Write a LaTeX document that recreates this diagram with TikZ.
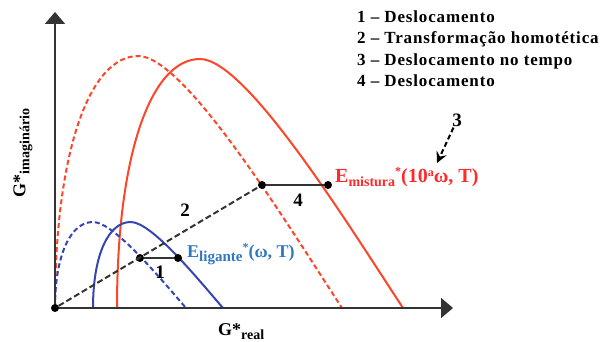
\documentclass[tikz,border=0pt]{standalone}
\usepackage{fontspec}
\setmainfont{Liberation Serif}
\usetikzlibrary{arrows.meta}
\definecolor{redc}{HTML}{FF4528}
\definecolor{bluec}{HTML}{3645B0}
\definecolor{ligc}{HTML}{2F78C0}
\definecolor{mixc}{HTML}{FF2A2A}
\definecolor{axc}{HTML}{333333}
\newcommand\archcurve[4]{%
  \draw[#1] (#2,308) .. controls ({#2+0.0*#3},{308-0.62*#4}) and ({#2+0.12*#3},{308-#4}) .. ({#2+0.29*#3},{308-#4})
    .. controls ({#2+0.45*#3},{308-#4}) and ({#2+0.8*#3},{308-0.35*#4}) .. ({#2+#3},308);}
\tikzset{
  redsolid/.style={draw=redc, line width=2pt},
  reddash/.style={draw=redc, line width=2pt, dash pattern=on 5pt off 3pt},
  bluesolid/.style={draw=bluec, line width=2pt},
  bluedash/.style={draw=bluec, line width=2pt, dash pattern=on 5pt off 3pt},
  axis/.style={draw=axc, line width=2pt, -{Triangle[length=12pt,width=20pt]}},
  dot/.style={circle, fill=black, inner sep=0pt, minimum size=8pt},
  blackdash/.style={draw=axc, line width=2pt, dash pattern=on 6pt off 3pt},
  seg/.style={draw=axc, line width=2pt},
  num/.style={font=\bfseries\fontsize{19}{22}\selectfont, inner sep=1pt},
  legend/.style={font=\bfseries\fontsize{17}{20}\selectfont\addfontfeature{LetterSpace=5}, anchor=base west, inner sep=0pt},
}
\begin{document}
\begin{tikzpicture}[x=1pt,y=-1pt]
\useasboundingbox (0,0) rectangle (603,342);
% curves
\archcurve{reddash}{55}{287}{252}
\archcurve{redsolid}{117}{286}{249}
\archcurve{bluedash}{55}{131}{86}
\archcurve{bluesolid}{93}{130}{86}
% axes
\coordinate (O) at (55,308);
\coordinate (Xend) at (453,308);
\coordinate (Yend) at (55,12);
\draw[axis] (O) -- (Xend);
\draw[axis] (O) -- (Yend);
% dots
\node[dot] (d0) at (55,308) {};
\node[dot] (d1) at (140,258) {};
\node[dot] (d2) at (178,258) {};
\node[dot] (d3) at (262,185) {};
\node[dot] (d4) at (328,185) {};
\draw[blackdash] (d0) -- (d3);
\draw[seg] (d1) -- (d2);
\draw[seg] (d3) -- (d4);
% numbers
\node[num] (n1) at (160,272) {1};
\node[num] (n2) at (185,210) {2};
\node[num] (n4) at (298,200) {4};
\node[num] (n3) at (457,120) {3};
\coordinate (a3) at (437,163);
\draw[draw=black, line width=2pt, dash pattern=on 5pt off 3pt, -{Stealth[length=11pt,width=11pt,inset=4pt]}] (n3) -- (a3);
% labels
\node[anchor=base west, inner sep=0pt, text=ligc, font=\bfseries] (lig) at (187,258)
  {\fontsize{18}{20}\selectfont E\raisebox{-4pt}{\fontsize{15}{17}\selectfont ligante}\raisebox{6pt}{\fontsize{12}{14}\selectfont *}(ω, T)};
\node[anchor=base west, inner sep=0pt, text=mixc, font=\bfseries] (mix) at (335,183)
  {\fontsize{20}{22}\selectfont E\raisebox{-4pt}{\fontsize{14}{16}\selectfont mistura}\raisebox{7pt}{\fontsize{12}{14}\selectfont *}(10\raisebox{6pt}{\fontsize{12}{14}\selectfont a}ω, T)};
\node[anchor=base west, inner sep=0pt, font=\bfseries] (gr) at (218,335)
  {\fontsize{18}{20}\selectfont G*\raisebox{-4pt}{\fontsize{14}{16}\selectfont real}};
\node[rotate=90, inner sep=0pt, font=\bfseries] (gi) at (23,153)
  {\fontsize{18}{20}\selectfont G*\raisebox{-4pt}{\fontsize{14}{16}\selectfont imaginário}};
% legend
\node[legend] (l1) at (357,23) {1 – Deslocamento};
\node[legend] (l2) at (357,44) {2 – Transformação homotética};
\node[legend] (l3) at (357,66) {3 – Deslocamento no tempo};
\node[legend] (l4) at (357,87) {4 – Deslocamento};
\end{tikzpicture}
\end{document}
